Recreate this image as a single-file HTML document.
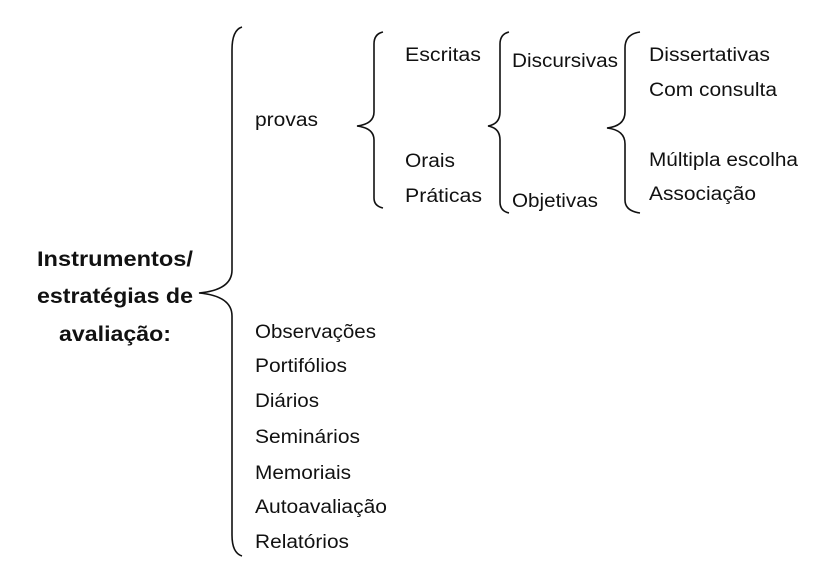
<!DOCTYPE html>
<html><head><meta charset="utf-8"><style>
html,body{margin:0;padding:0;background:#fff;}
svg{display:block;}
text{font-family:"Liberation Sans",Arial,sans-serif;fill:#111;font-size:19px;}
.b{font-weight:bold;font-size:21px;}
path{fill:none;stroke:#111;stroke-width:1.6;}
</style></head><body>
<svg width="833" height="570" viewBox="0 0 833 570" xmlns="http://www.w3.org/2000/svg">
<path d="M242,27 Q232,30 232,50 L232,270 Q232,290 199,293 Q232,296 232,316 L232,535 Q232,553 242,556"/>
<path d="M383,32 Q374,34 374,44 L374,112 Q374,124 357,126 Q374,128 374,140 L374,198 Q374,206 383,208"/>
<path d="M509,32 Q500,34 500,44 L500,112 Q500,124 488,126 Q500,128 500,140 L500,202 Q500,211 509,213"/>
<path d="M640,32 Q625,34 625,48 L625,112 Q625,126 607,128 Q625,130 625,144 L625,200 Q625,211 640,213"/>
<text class="b" x="37" y="266" textLength="156" lengthAdjust="spacingAndGlyphs">Instrumentos/</text>
<text class="b" x="37" y="303" textLength="156" lengthAdjust="spacingAndGlyphs">estratégias de</text>
<text class="b" x="59" y="341" textLength="112" lengthAdjust="spacingAndGlyphs">avaliação:</text>
<text x="255" y="126" textLength="63" lengthAdjust="spacingAndGlyphs">provas</text>
<text x="405" y="61" textLength="76" lengthAdjust="spacingAndGlyphs">Escritas</text>
<text x="405" y="167" textLength="50" lengthAdjust="spacingAndGlyphs">Orais</text>
<text x="405" y="202" textLength="77" lengthAdjust="spacingAndGlyphs">Práticas</text>
<text x="512" y="67" textLength="106" lengthAdjust="spacingAndGlyphs">Discursivas</text>
<text x="512" y="207" textLength="86" lengthAdjust="spacingAndGlyphs">Objetivas</text>
<text x="649" y="61" textLength="121" lengthAdjust="spacingAndGlyphs">Dissertativas</text>
<text x="649" y="96" textLength="128" lengthAdjust="spacingAndGlyphs">Com consulta</text>
<text x="649" y="166" textLength="149" lengthAdjust="spacingAndGlyphs">Múltipla escolha</text>
<text x="649" y="200" textLength="107" lengthAdjust="spacingAndGlyphs">Associação</text>
<text x="255" y="338" textLength="121" lengthAdjust="spacingAndGlyphs">Observações</text>
<text x="255" y="372" textLength="92" lengthAdjust="spacingAndGlyphs">Portifólios</text>
<text x="255" y="407" textLength="64" lengthAdjust="spacingAndGlyphs">Diários</text>
<text x="255" y="443" textLength="105" lengthAdjust="spacingAndGlyphs">Seminários</text>
<text x="255" y="479" textLength="96" lengthAdjust="spacingAndGlyphs">Memoriais</text>
<text x="255" y="513" textLength="132" lengthAdjust="spacingAndGlyphs">Autoavaliação</text>
<text x="255" y="548" textLength="94" lengthAdjust="spacingAndGlyphs">Relatórios</text>
</svg>
</body></html>
